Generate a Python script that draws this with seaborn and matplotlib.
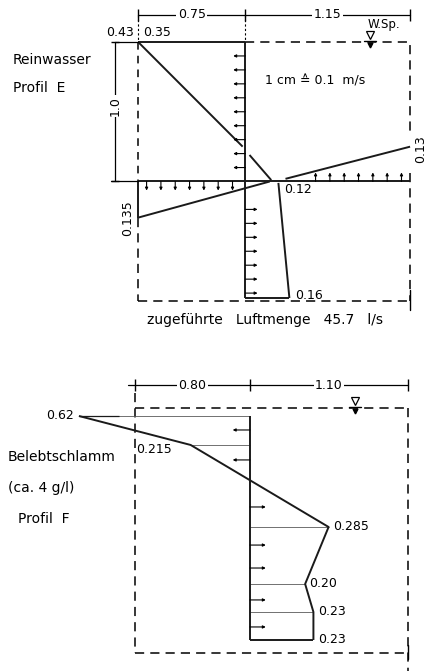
import numpy as np
import matplotlib
matplotlib.use("Agg")
import matplotlib.pyplot as plt
import seaborn as sns

sns.set_theme(style="white")
plt.rcParams["font.family"] = ["DejaVu Sans"]
plt.rcParams["text.color"] = "black"

# ---------------- data (lengths in m, velocities in m/s) ----------------
# Profil E - Reinwasser
e_widths = [0.75, 1.15]            # wall -> measuring axis -> wall
e_axis_depth = 1.0                 # depth of the horizontal measuring axis
e_tank_depth = 1.86
e_top_depth = [0.0, 0.75]          # vertical profile above the axis (+ = right)
e_top_vel = [-0.39, -0.01]
e_mid_depth = [0.81, 0.99]
e_mid_vel = [0.015, 0.094]
e_hl_x = [0.0, 0.92]               # horizontal profile, left part (+ = up)
e_hl_vel = [-0.135, 0.0]
e_hr_x = [1.03, 1.90]              # horizontal profile, right part
e_hr_vel = [0.01, 0.13]
e_low_depth = [1.01, 1.835]        # vertical profile below the axis
e_low_vel = [0.12, 0.16]
e_arrow_left = [0.1, 0.2, 0.3, 0.4, 0.5, 0.6, 0.7, 0.8, 0.9]
e_arrow_right = [1.2, 1.3, 1.4, 1.5, 1.6, 1.7, 1.8]
e_arrow_down = [0.06, 0.16, 0.26, 0.36, 0.46, 0.56, 0.66]
e_arrow_up = [1.24, 1.34, 1.44, 1.54, 1.64, 1.74, 1.84]

# Profil F - Belebtschlamm
f_widths = [0.80, 1.10]
f_tank_depth = 1.75
f_depth = [0.057, 0.264, 0.85, 1.257, 1.457, 1.657]
f_vel = [-0.62, -0.215, 0.285, 0.20, 0.23, 0.23]
f_labels = ["0.62", "0.215", "0.285", "0.20", "0.23", "0.23"]
f_arrow_left = [0.157, 0.371]
f_arrow_right = [0.707, 0.979, 1.143, 1.371, 1.564]

VS = 1.92  # drawing scale: m of paper-length per m/s (1 cm = 0.1 m/s)

# ---------------- figure ----------------
W, H = 429, 671
fig = plt.figure(figsize=(W / 100, H / 100), dpi=100)
fig.patch.set_facecolor("white")


def make_ax(x0, y0, sx, sy):
    ax = fig.add_axes([0, 0, 1, 1])
    ax.set_xlim(-x0 / sx, (W - x0) / sx)
    ax.set_ylim((H - y0) / sy, -y0 / sy)
    ax.axis("off")
    ax.patch.set_alpha(0)
    return ax


def line(ax, x, y, lw=1.4, color="k"):
    sns.lineplot(x=np.asarray(x, float), y=np.asarray(y, float), ax=ax,
                 sort=False, estimator=None, color=color, lw=lw,
                 solid_capstyle="butt")


DASH = (0, (6, 4))
ink = "black"
fs = 9
fl = 10


def dashed(ax, x, y):
    ax.plot(x, y, color=ink, lw=1.1, linestyle=DASH)


def arrow(ax, x0, y0, x1, y1):
    ax.annotate("", xy=(x1, y1), xytext=(x0, y0),
                arrowprops=dict(arrowstyle="-|>", lw=0.8, color=ink,
                                mutation_scale=4, shrinkA=0, shrinkB=0))


def surface_mark(ax, x, y):
    ax.plot([x], [y - 0.05], marker="v", ms=6, mfc="white", mec=ink, mew=0.9)
    ax.plot([x - 0.04, x + 0.04], [y - 0.005, y - 0.005], color=ink, lw=1)
    ax.plot([x], [y + 0.02], marker="v", ms=3.5, color=ink)


# ================= Profil E =================
ax = make_ax(138, 42, 143.2, 139.5)
ax_x = e_widths[0]
right = sum(e_widths)
d_ax = e_axis_depth

# tank outline
dashed(ax, [ax_x, right, right], [0, 0, 0.66])
dashed(ax, [right, right], [0.94, e_tank_depth])
dashed(ax, [0, 0], [d_ax + e_hl_vel[0] * -VS, e_tank_depth])
dashed(ax, [0, right], [e_tank_depth, e_tank_depth])
ax.plot([right, right], [e_tank_depth - 0.08, e_tank_depth + 0.06], color=ink, lw=1)
ax.plot([0, 0], [0, d_ax], color=ink, lw=1.1, linestyle=(0, (5, 4)))

# vertical profile above the axis
line(ax, [ax_x + v * VS for v in e_top_vel], e_top_depth)
line(ax, [ax_x + v * VS for v in e_mid_vel], e_mid_depth)
line(ax, [ax_x + e_top_vel[0] * VS, ax_x], [0, 0])
line(ax, [ax_x, ax_x], [0, d_ax])
for d in e_arrow_left:
    arrow(ax, ax_x, d, ax_x - 0.085, d)

# horizontal profile at the axis depth
line(ax, [0, right], [d_ax, d_ax])
line(ax, e_hl_x, [d_ax - v * VS for v in e_hl_vel])
line(ax, e_hr_x, [d_ax - v * VS for v in e_hr_vel])
line(ax, [0, 0], [d_ax, d_ax - e_hl_vel[0] * VS])
for x in e_arrow_down:
    arrow(ax, x, d_ax, x, d_ax + 0.065)
for x in e_arrow_up:
    arrow(ax, x, d_ax, x, d_ax - 0.065)

# vertical profile below the axis
line(ax, [ax_x + v * VS for v in e_low_vel], e_low_depth)
line(ax, [ax_x, ax_x], [d_ax, e_low_depth[-1]])
line(ax, [ax_x, ax_x + e_low_vel[-1] * VS], [e_low_depth[-1]] * 2)
for d in e_arrow_right:
    arrow(ax, ax_x, d, ax_x + 0.085, d)

# dimension lines
yd = -0.194
ax.plot([0, right], [yd, yd], color=ink, lw=0.9)
ax.plot([0, ax_x, right], [yd] * 3, ls="none", marker="|", ms=8, mew=1, color=ink)
ax.plot([0, 0], [yd, 0], color=ink, lw=0.8, ls=(0, (2, 2)))
ax.plot([ax_x, ax_x], [yd, 0], color=ink, lw=0.8, ls=(0, (2, 2)))
for xm, t in [(e_widths[0] / 2, "0.75"), (ax_x + e_widths[1] / 2, "1.15")]:
    ax.text(xm, yd, t, ha="center", va="center", fontsize=fs,
            bbox=dict(fc="white", ec="none", pad=1))
xl = -0.16
ax.plot([xl, xl], [0, d_ax], color=ink, lw=0.9)
ax.plot([xl, 0], [0, 0], color=ink, lw=0.9)
ax.plot([xl - 0.03, 0], [d_ax, d_ax], color=ink, lw=0.9)
ax.plot([xl, xl], [0, d_ax], ls="none", marker="_", ms=6, mew=1, color=ink)
ax.text(xl, 0.46, "1.0", rotation=90, ha="center", va="center", fontsize=fs,
        bbox=dict(fc="white", ec="none", pad=1))

# texts
ax.text(-0.126, -0.065, "0.43", ha="center", va="center", fontsize=fs)
ax.text(0.133, -0.065, "0.35", ha="center", va="center", fontsize=fs)
ax.text(1.72, -0.125, "W.Sp.", ha="center", va="center", fontsize=fs - 0.5)
surface_mark(ax, 1.62, 0)
ax.text(-0.873, 0.13, "Reinwasser", ha="left", va="center", fontsize=fl)
ax.text(-0.873, 0.33, "Profil  E", ha="left", va="center", fontsize=fl)
ax.text(0.887, 0.28, "1 cm ≙ 0.1  m/s", ha="left", va="center", fontsize=fs)
ax.text(ax_x + e_low_vel[0] * VS + 0.04, 1.06, "0.12", ha="left", va="center", fontsize=fs)
ax.text(ax_x + e_low_vel[-1] * VS + 0.04, e_low_depth[-1] - 0.02, "0.16",
        ha="left", va="center", fontsize=fs)
ax.text(right + 0.075, d_ax - e_hr_vel[-1] * VS + 0.02, "0.13", rotation=90,
        ha="center", va="center", fontsize=fs)
ax.text(-0.075, d_ax - e_hl_vel[0] * VS, "0.135", rotation=90,
        ha="center", va="center", fontsize=fs)
ax.text(0.887, 1.99, "zugeführte   Luftmenge   45.7   l/s", ha="center",
        va="center", fontsize=fl)

# ================= Profil F =================
ax = make_ax(135, 408, 143.7, 140)
ax_x = f_widths[0]
right = sum(f_widths)

dashed(ax, [0, right], [0, 0])
dashed(ax, [0, 0], [-0.11, f_tank_depth])
dashed(ax, [0, right], [f_tank_depth, f_tank_depth])
dashed(ax, [right, right], [0, f_tank_depth + 0.13])
ax.plot([right, right], [f_tank_depth - 0.06, f_tank_depth + 0.04], color=ink, lw=1)

px = [ax_x + v * VS for v in f_vel]
for x, d in zip(px[:-1], f_depth[:-1]):
    line(ax, [ax_x, x], [d, d], lw=0.6, color="0.35")
line(ax, [px[-1], ax_x], [f_depth[-1]] * 2)
line(ax, [px[0], px[0] + 0.28], [f_depth[0]] * 2, lw=0.9)
line(ax, px, f_depth)
line(ax, [ax_x, ax_x], [f_depth[0], f_depth[-1]])
for d in f_arrow_left:
    arrow(ax, ax_x, d, ax_x - 0.12, d)
for d in f_arrow_right:
    arrow(ax, ax_x, d, ax_x + 0.11, d)

for x, d, t in zip(px, f_depth, f_labels):
    if x < 0:
        ax.text(x - 0.035, d, t, ha="right", va="center", fontsize=fs)
    elif x < ax_x:
        ax.text(0.01, d + 0.03, t, ha="left", va="center", fontsize=fs)
    else:
        ax.text(x + 0.03, d, t, ha="left", va="center", fontsize=fs)

yd = -0.164
ax.plot([-0.05, right], [yd, yd], color=ink, lw=0.9)
ax.plot([0, ax_x, right], [yd] * 3, ls="none", marker="|", ms=8, mew=1, color=ink)
for xm, t in [(f_widths[0] / 2, "0.80"), (ax_x + f_widths[1] / 2, "1.10")]:
    ax.text(xm, yd, t, ha="center", va="center", fontsize=fs,
            bbox=dict(fc="white", ec="none", pad=1))
surface_mark(ax, 1.53, 0)

ax.text(-0.884, 0.35, "Belebtschlamm", ha="left", va="center", fontsize=fl)
ax.text(-0.884, 0.57, "(ca. 4 g/l)", ha="left", va="center", fontsize=fl)
ax.text(-0.814, 0.79, "Profil  F", ha="left", va="center", fontsize=fl)

fig.savefig("out.png", dpi=100, facecolor="white")
